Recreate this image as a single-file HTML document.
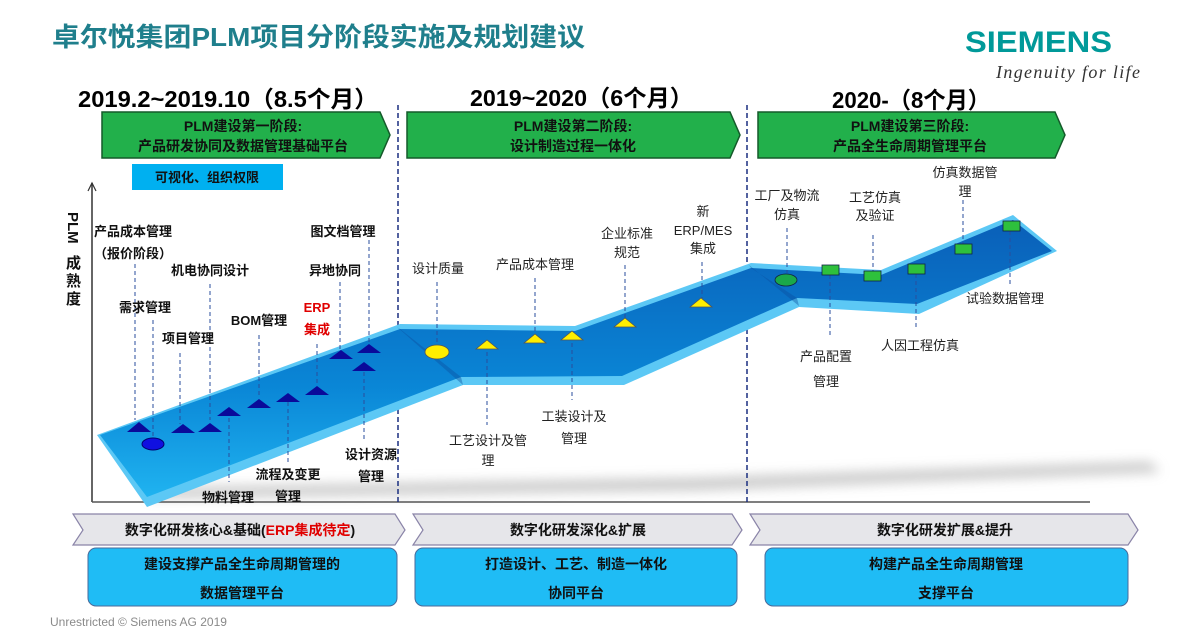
<!DOCTYPE html>
<html><head><meta charset="utf-8"><style>
html,body{margin:0;padding:0;background:#fff;}
svg{display:block;font-family:"Liberation Sans","Noto Sans CJK SC",sans-serif;}
.b{font-weight:bold;}
</style></head><body>
<svg width="1200" height="636" viewBox="0 0 1200 636" xmlns="http://www.w3.org/2000/svg">
<defs>
<linearGradient id="bl" x1="0" y1="0" x2="0" y2="1">
<stop offset="0" stop-color="#0a5fb8"/><stop offset="0.6" stop-color="#0a86d6"/><stop offset="1" stop-color="#1fb3f0"/></linearGradient>
<filter id="blur" x="-10%" y="-200%" width="120%" height="500%"><feGaussianBlur stdDeviation="6"/></filter>
</defs>
<text x="52" y="46" font-size="26" font-weight="bold" fill="#1f7f8c" textLength="533" lengthAdjust="spacingAndGlyphs">卓尔悦集团PLM项目分阶段实施及规划建议</text>
<text x="965" y="52" font-size="30" font-weight="bold" fill="#009999" textLength="147" lengthAdjust="spacingAndGlyphs">SIEMENS</text>
<text x="996" y="78" font-size="18" font-style="italic" fill="#333" font-family="Liberation Serif,serif" textLength="144">Ingenuity for life</text>

<text x="78" y="107" font-size="23" class="b" textLength="300" lengthAdjust="spacingAndGlyphs">2019.2~2019.10（8.5个月）</text>
<text x="470" y="106" font-size="23" class="b" textLength="223" lengthAdjust="spacingAndGlyphs">2019~2020（6个月）</text>
<text x="832" y="108" font-size="23" class="b" textLength="158" lengthAdjust="spacingAndGlyphs">2020-（8个月）</text>

<g stroke="#145a2a" stroke-width="1.5" fill="#22b04b">
<polygon points="102,112 380,112 390,135 380,158 102,158"/>
<polygon points="407,112 730,112 740,135 730,158 407,158"/>
<polygon points="758,112 1055,112 1065,135 1055,158 758,158"/>
</g>
<g font-size="14" class="b" text-anchor="middle" fill="#111">
<text x="243" y="131">PLM建设第一阶段:</text><text x="243" y="151">产品研发协同及数据管理基础平台</text>
<text x="573" y="131">PLM建设第二阶段:</text><text x="573" y="151">设计制造过程一体化</text>
<text x="910" y="131">PLM建设第三阶段:</text><text x="910" y="151">产品全生命周期管理平台</text>
</g>
<rect x="132" y="164" width="151" height="26" fill="#00b0f0"/>
<text x="207" y="182" font-size="13" class="b" text-anchor="middle" fill="#111">可视化、组织权限</text>

<!-- shadow -->
<polygon points="150,488 700,478 1150,462 1160,472 700,490 150,498" fill="#999" opacity="0.55" filter="url(#blur)"/>
<!-- axes -->
<line x1="92" y1="183" x2="92" y2="502" stroke="#333" stroke-width="1.5"/>
<polyline points="88,191 92,183 96,191" fill="none" stroke="#333" stroke-width="1.2"/>
<line x1="92" y1="502" x2="1090" y2="502" stroke="#555" stroke-width="1.5"/>
<line x1="398" y1="105" x2="398" y2="502" stroke="#1a2f80" stroke-width="1.5" stroke-dasharray="5,3"/>
<line x1="747" y1="105" x2="747" y2="502" stroke="#1a2f80" stroke-width="1.5" stroke-dasharray="5,3"/>
<g font-size="15" class="b" fill="#111">
<text transform="translate(68,212) rotate(90)">PLM</text>
<text x="66" y="268">成</text><text x="66" y="286">熟</text><text x="66" y="304">度</text>
</g>

<!-- band -->
<polygon points="97,435 400,324 575,326 751,263 881,270 1013,215 1057,251 919,314 799,307 624,385 463,385 147,507" fill="#5cc8f5"/>
<polygon points="100,435 400,329 575,331 751,268 881,275 1013,220 1052,251 917,304 797,298 622,376 461,377 147,497" fill="url(#bl)"/>
<polygon points="400,329 461,377 463,385 397,327" fill="#0a4d9e" opacity="0.4"/>
<polygon points="751,268 797,298 799,306 749,265" fill="#0a4d9e" opacity="0.4"/>

<!-- section 1 markers -->
<g stroke="#2a4d9c" stroke-width="1" stroke-dasharray="4,3" fill="none">
<line x1="135" y1="264" x2="135" y2="420"/><line x1="153" y1="320" x2="153" y2="440"/>
<line x1="180" y1="353" x2="180" y2="424"/><line x1="210" y1="284" x2="210" y2="420"/>
<line x1="229" y1="418" x2="229" y2="482"/><line x1="259" y1="335" x2="259" y2="398"/>
<line x1="288" y1="402" x2="288" y2="462"/><line x1="317" y1="344" x2="317" y2="385"/>
<line x1="340" y1="282" x2="340" y2="350"/><line x1="369" y1="240" x2="369" y2="343"/>
<line x1="364" y1="372" x2="364" y2="440"/>
</g>
<g fill="#0a0a9a">
<polygon points="127,432 139,422 151,432"/><polygon points="171,433 183,424 195,433"/>
<polygon points="198,432 210,423 222,432"/><polygon points="217,416 229,407 241,416"/>
<polygon points="247,408 259,399 271,408"/><polygon points="276,402 288,393 300,402"/>
<polygon points="305,395 317,386 329,395"/><polygon points="329,359 341,350 353,359"/>
<polygon points="357,353 369,344 381,353"/><polygon points="352,371 364,362 376,371"/>
<ellipse cx="153" cy="444" rx="11" ry="6" fill="#1010e0" stroke="#000070"/>
</g>
<g font-size="13" class="b" text-anchor="middle" fill="#111">
<text x="133" y="236">产品成本管理</text><text x="133" y="258">（报价阶段）</text>
<text x="210" y="275">机电协同设计</text><text x="145" y="312">需求管理</text>
<text x="188" y="343">项目管理</text><text x="259" y="325">BOM管理</text>
<text x="317" y="312" fill="#e00000">ERP</text><text x="317" y="334" fill="#e00000">集成</text>
<text x="343" y="236">图文档管理</text><text x="335" y="275">异地协同</text>
<text x="371" y="459">设计资源</text><text x="371" y="481">管理</text>
<text x="288" y="479">流程及变更</text><text x="288" y="501">管理</text>
<text x="228" y="502">物料管理</text>
</g>

<!-- section 2 -->
<g stroke="#2a4d9c" stroke-width="1" stroke-dasharray="4,3" fill="none">
<line x1="437" y1="282" x2="437" y2="345"/><line x1="487" y1="352" x2="487" y2="425"/>
<line x1="535" y1="278" x2="535" y2="333"/><line x1="572" y1="343" x2="572" y2="400"/>
<line x1="625" y1="265" x2="625" y2="318"/><line x1="702" y1="262" x2="702" y2="298"/>
</g>
<g fill="#ffee00" stroke="#555" stroke-width="0.8">
<ellipse cx="437" cy="352" rx="12" ry="7"/>
<polygon points="476,349 487,340 498,349"/><polygon points="524,343 535,334 546,343"/>
<polygon points="561,340 572,331 583,340"/><polygon points="614,327 625,318 636,327"/>
<polygon points="690,307 701,298 712,307"/>
</g>
<g font-size="13" text-anchor="middle" fill="#222">
<text x="438" y="273">设计质量</text><text x="535" y="269">产品成本管理</text>
<text x="627" y="238">企业标准</text><text x="627" y="257">规范</text>
<text x="703" y="216">新</text><text x="703" y="235">ERP/MES</text><text x="703" y="253">集成</text>
<text x="488" y="445">工艺设计及管</text><text x="488" y="465">理</text>
<text x="574" y="421">工装设计及</text><text x="574" y="443">管理</text>
</g>

<!-- section 3 -->
<g stroke="#2a4d9c" stroke-width="1" stroke-dasharray="4,3" fill="none">
<line x1="787" y1="228" x2="787" y2="273"/><line x1="830" y1="275" x2="830" y2="338"/>
<line x1="873" y1="235" x2="873" y2="271"/><line x1="916" y1="274" x2="916" y2="330"/>
<line x1="963" y1="200" x2="963" y2="244"/><line x1="1010" y1="231" x2="1010" y2="285"/>
</g>
<g fill="#2ec03c" stroke="#124" stroke-width="0.8">
<ellipse cx="786" cy="280" rx="11" ry="6" fill="#1aa84a"/>
<rect x="822" y="265" width="17" height="10"/><rect x="864" y="271" width="17" height="10"/>
<rect x="908" y="264" width="17" height="10"/><rect x="955" y="244" width="17" height="10"/>
<rect x="1003" y="221" width="17" height="10"/>
</g>
<g font-size="13" text-anchor="middle" fill="#222">
<text x="787" y="200">工厂及物流</text><text x="787" y="219">仿真</text>
<text x="875" y="202">工艺仿真</text><text x="875" y="220">及验证</text>
<text x="965" y="177">仿真数据管</text><text x="965" y="196">理</text>
<text x="1005" y="303">试验数据管理</text>
<text x="826" y="361">产品配置</text><text x="826" y="386">管理</text>
<text x="920" y="350">人因工程仿真</text>
</g>

<!-- bottom chevrons -->
<g fill="#e6e6ea" stroke="#8a84a8" stroke-width="1.2">
<polygon points="73,514 395,514 405,530 395,545 73,545 83,530"/>
<polygon points="413,514 732,514 742,530 732,545 413,545 423,530"/>
<polygon points="750,514 1128,514 1138,530 1128,545 750,545 760,530"/>
</g>
<g font-size="14" class="b" text-anchor="middle" fill="#111">
<text x="240" y="535">数字化研发核心&amp;基础(<tspan fill="#e00000">ERP集成待定</tspan>)</text>
<text x="578" y="535">数字化研发深化&amp;扩展</text>
<text x="945" y="535">数字化研发扩展&amp;提升</text>
</g>
<g fill="#1fbcf5" stroke="#4a6a9a" stroke-width="1">
<rect x="88" y="548" width="309" height="58" rx="8"/>
<rect x="415" y="548" width="322" height="58" rx="8"/>
<rect x="765" y="548" width="363" height="58" rx="8"/>
</g>
<g font-size="14" class="b" text-anchor="middle" fill="#111">
<text x="242" y="569">建设支撑产品全生命周期管理的</text><text x="242" y="598">数据管理平台</text>
<text x="576" y="569">打造设计、工艺、制造一体化</text><text x="576" y="598">协同平台</text>
<text x="946" y="569">构建产品全生命周期管理</text><text x="946" y="598">支撑平台</text>
</g>
<text x="50" y="626" font-size="12" fill="#8a8a8a">Unrestricted © Siemens AG 2019</text>
</svg>
</body></html>
